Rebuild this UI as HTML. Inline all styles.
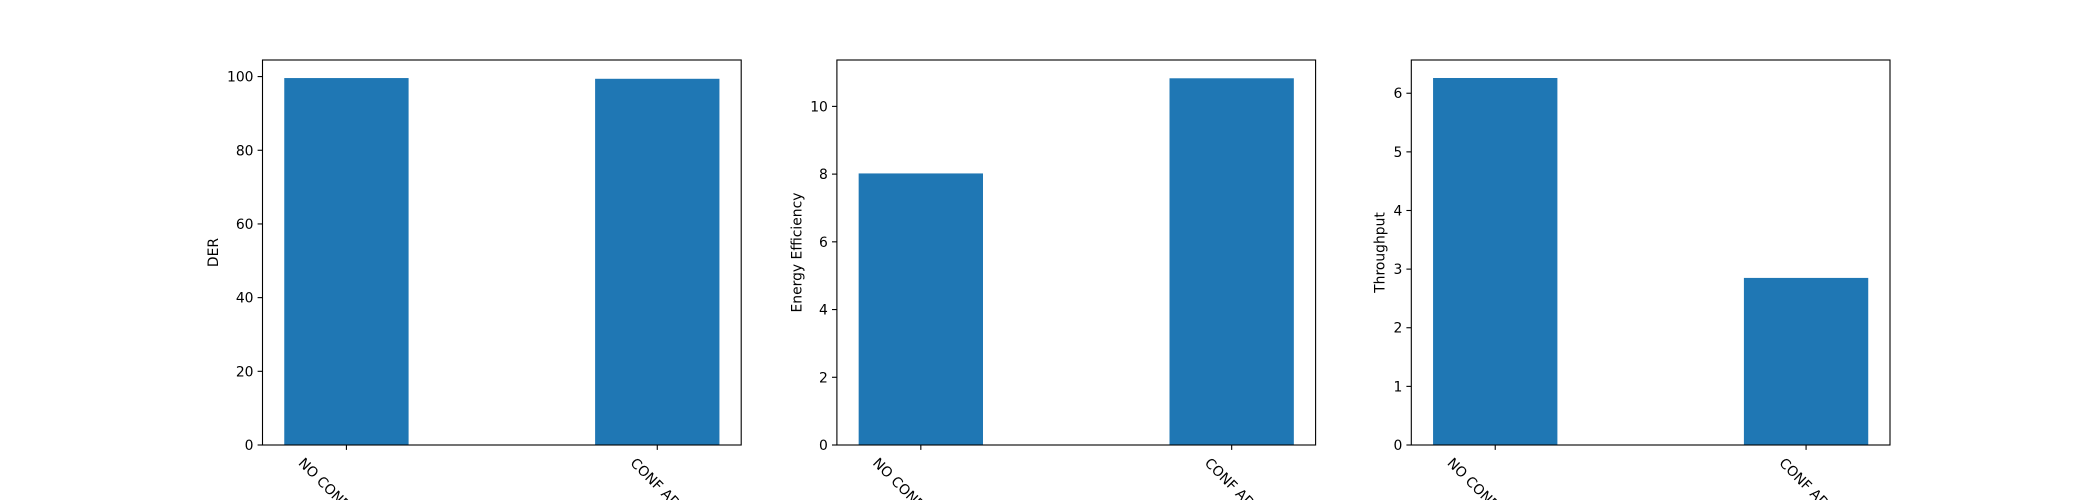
<!DOCTYPE html>
<html><head><meta charset="utf-8"><style>
html,body{margin:0;padding:0;background:#fff;overflow:hidden;width:2100px;height:500px}
svg{display:block;overflow:hidden;font-family:"DejaVu Sans","Liberation Sans",sans-serif}
</style></head><body>
<svg id="fig" width="2100" height="500" viewBox="0 0 2100 500" xmlns="http://www.w3.org/2000/svg"></svg>
<script>
const categories = ["NO CONFIRMATION", "CONF ADR"];
const derValues = [99.6, 99.4];
const energyValues = [8.02, 10.83];
const throughputValues = [6.26, 2.85];
const derTicks = [0, 20, 40, 60, 80, 100];
const energyTicks = [0, 2, 4, 6, 8, 10];
const throughputTicks = [0, 1, 2, 3, 4, 5, 6];
const yTitles = ["DER", "Energy Efficiency", "Throughput"];
const yMaxes = [104.5, 11.37, 6.567];

const NS = "http://www.w3.org/2000/svg";
const svgEl = document.getElementById("fig");
function mk(tag, attrs, parent) {
  const e = document.createElementNS(NS, tag);
  for (const k in attrs) e.setAttribute(k, attrs[k]);
  (parent || svgEl).appendChild(e);
  return e;
}
const axW = 478.7, axStep = 574.4;
const panels = [
  {left: 262.5, vals: derValues, ticks: derTicks, title: yTitles[0], ymax: yMaxes[0], slug: "der"},
  {left: 262.5 + axStep, vals: energyValues, ticks: energyTicks, title: yTitles[1], ymax: yMaxes[1], slug: "energy"},
  {left: 262.5 + 2 * axStep, vals: throughputValues, ticks: throughputTicks, title: yTitles[2], ymax: yMaxes[2], slug: "throughput"}
];
const topY = 60, bottomY = 445;
panels.forEach(p => {
  p.right = p.left + axW;
  const g = mk("g", {});
  
  
  const xmin = -0.27, xmax = 1.27;
  const xs = v => p.left + (v - xmin) / (xmax - xmin) * (p.right - p.left);
  const ys = v => bottomY - v / p.ymax * (bottomY - topY);
  const bw = 0.4;
  p.vals.forEach((v, i) => {
    const r = mk("rect", {x: xs(i - bw / 2), y: ys(v), width: xs(i + bw / 2) - xs(i - bw / 2), height: bottomY - ys(v), fill: "#1f77b4"}, g);
    
    
  });
  p.ticks.forEach(t => {
    const y = ys(t);
    mk("line", {x1: p.left - 4.9, x2: p.left, y1: y, y2: y, stroke: "#000", "stroke-width": 1.1}, g);
    const tx = mk("text", {x: p.left - 9, y: y + 5, "text-anchor": "end", "font-size": 13.9, fill: "#000"}, g);
    tx.textContent = t;
    
    
  });
  categories.forEach((c, i) => {
    const x = xs(i);
    mk("line", {x1: x, x2: x, y1: bottomY, y2: bottomY + 4.9, stroke: "#000", "stroke-width": 1.1}, g);
    const tx = mk("text", {x: 0, y: 0, "font-size": 13.9, fill: "#000", "dominant-baseline": "hanging"}, g);
    tx.textContent = c;
    
    
    let len = 0;
    try { len = tx.getComputedTextLength(); } catch (e) { len = c.length * 9; }
    const ox = x - (len - 14) * 0.707 / 2;
    tx.setAttribute("transform", `translate(${ox},${bottomY + 12}) rotate(45)`);
  });
  const fr = mk("rect", {x: p.left, y: topY, width: p.right - p.left, height: bottomY - topY, fill: "none", stroke: "#000", "stroke-width": 1.1}, g);
  
  
  const maxLabel = Math.max(...p.ticks.map(t => String(t).length));
  const lx = p.left - 14 - maxLabel * 8.8 - 4;
  const cy = (topY + bottomY) / 2;
  const yt = mk("text", {x: lx, y: cy, "text-anchor": "middle", "font-size": 13.9, fill: "#000", transform: `rotate(-90 ${lx} ${cy})`}, g);
  yt.textContent = p.title;
  
  
});
</script>
</body></html>
